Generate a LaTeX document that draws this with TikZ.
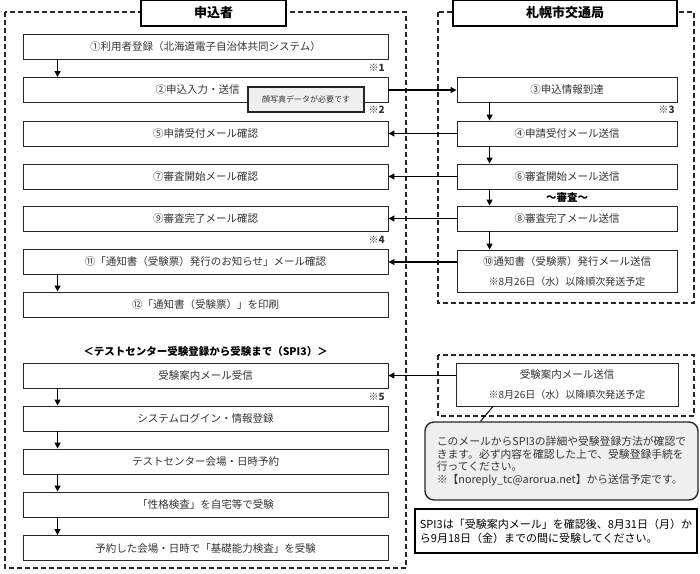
\documentclass[tikz,border=0pt]{standalone}
\usepackage{fontspec}
\setmainfont{Noto Sans CJK JP}
\usetikzlibrary{arrows.meta, positioning}
\definecolor{inkgray}{HTML}{333333}
\definecolor{notegray}{HTML}{EFEFEF}

\begin{document}
\begin{tikzpicture}[x=1pt, y=-1pt,
        box/.style={draw=black!85, line width=0.9pt, fill=white, inner sep=0pt,
                    minimum height=25pt, text=inkgray, align=center,
                    font=\fontsize{10.5}{20}\selectfont},
        lbox/.style={box, minimum width=365pt},
        rbox/.style={box, minimum width=220pt},
        head/.style={draw=black, line width=1.4pt, fill=white, inner sep=0pt,
                     minimum height=26pt, font=\fontsize{13}{15}\selectfont\bfseries},
        frame/.style={draw=black!85, line width=1.3pt, dash pattern=on 5pt off 3pt},
        refmark/.style={anchor=east, inner sep=0pt, text=inkgray,
                        font=\fontsize{10}{12}\selectfont\bfseries},
        arr/.style={-{Triangle[length=6pt, width=6pt]}, line width=1.2pt}
    ]
    \useasboundingbox (0,0) rectangle (700,573);

    % dashed frames
    \draw[frame] (5,12) rectangle (406,568);
    \draw[frame] (438,12) rectangle (694,303);
    \draw[frame] (438,355) rectangle (694,416);

    \node[head, minimum width=145pt] (applicant) at (213.5,13) {申込者};
    \node[head, minimum width=224pt] (bureau) at (565,13) {札幌市交通局};

    % applicant side
    \node[lbox] (u1) at (205.5,46.5) {①利用者登録（北海道電子自治体共同システム）};
    \node[lbox] (u2) at (205.5,90) {②申込入力・送信\hspace*{16pt}};
    \node[lbox] (u5) at (205.5,133.5) {⑤申請受付メール確認};
    \node[lbox] (u7) at (205.5,176.5) {⑦審査開始メール確認};
    \node[lbox] (u9) at (205.5,218.5) {⑨審査完了メール確認};
    \node[lbox] (u11) at (205.5,262) {⑪「通知書（受験票）発行のお知らせ」メール確認};
    \node[lbox] (u12) at (205.5,304.5) {⑫「通知書（受験票）」を印刷};

    \node[draw=black!85, line width=1.6pt, fill=notegray, inner sep=0pt,
          minimum width=116pt, minimum height=25pt, text=inkgray,
          font=\fontsize{8}{10}\selectfont] (photo) at (306,99.5) {顔写真データが必要です};

    \node[refmark] (m1) at (385,68) {※1};
    \node[refmark] (m2) at (385,110) {※2};
    \node[refmark] (m4) at (385,240) {※4};

    % bureau side
    \node[rbox] (r3) at (567,90) {③申込情報到達};
    \node[rbox] (r4) at (567,133.5) {④申請受付メール送信};
    \node[rbox] (r6) at (567,176.5) {⑥審査開始メール送信};
    \node[rbox] (r8) at (567,218.5) {⑧審査完了メール送信};
    \node[rbox, minimum height=42pt] (r10) at (567,271)
        {⑩通知書（受験票）発行メール送信\\{\fontsize{10}{12}\selectfont ※8月26日（水）以降順次発送予定}};
    \node[refmark] (m3) at (675,110) {※3};
    \node[inner sep=0pt, font=\fontsize{10.5}{12}\selectfont\bfseries] (exam) at (567,197) {～審査～};

    % SPI3
    \node[inner sep=0pt, font=\fontsize{10.5}{12}\selectfont\bfseries] (spihead) at (205.5,352)
        {＜テストセンター受験登録から受験まで（SPI3）＞};
    \node[lbox] (t1) at (205.5,375.5) {受験案内メール受信};
    \node[lbox] (t2) at (205.5,418.5) {システムログイン・情報登録};
    \node[lbox] (t3) at (205.5,461.5) {テストセンター会場・日時予約};
    \node[lbox] (t4) at (205.5,504.5) {「性格検査」を自宅等で受験};
    \node[lbox] (t5) at (205.5,548) {予約した会場・日時で「基礎能力検査」を受験};
    \node[refmark] (m5) at (385,397) {※5};

    \node[rbox, minimum width=222pt, minimum height=43pt] (s1) at (567,384.5)
        {受験案内メール送信\\{\fontsize{10}{12}\selectfont ※8月26日（水）以降順次発送予定}};

    \node[draw=black!85, line width=1.4pt, rounded corners=9pt, fill=notegray,
          minimum width=273pt, minimum height=78pt, inner sep=0pt, align=left,
          text=inkgray, font=\fontsize{10.8}{12.5}\selectfont] (callout) at (561.5,461)
        {このメールからSPI3の詳細や受験登録方法が確認で\\
         きます。必ず内容を確認した上で、受験登録手続を\\
         行ってください。\\
         ※【noreply\_tc@arorua.net】から送信予定です。};
    \draw[line width=1pt] ([xshift=-74pt]s1.south) -- ([xshift=-81pt]callout.north);

    \node[draw=black, line width=1.5pt, fill=white, minimum width=282pt,
          minimum height=44pt, inner sep=0pt, align=left,
          font=\fontsize{11}{14}\selectfont] (period) at (556,531)
        {SPI3は「受験案内メール」を確認後、8月31日（月）か\\
         ら9月18日（金）までの間に受験してください。};

    % connectors
    \draw[arr] ([xshift=35pt]u1.south west) -- ([xshift=35pt]u2.north west);
    \draw[arr] ([xshift=35pt]u11.south west) -- ([xshift=35pt]u12.north west);
    \draw[arr] ([xshift=33pt]r3.south west) -- ([xshift=33pt]r4.north west);
    \draw[arr] ([xshift=33pt]r4.south west) -- ([xshift=33pt]r6.north west);
    \draw[arr] ([xshift=33pt]r6.south west) -- ([xshift=33pt]r8.north west);
    \draw[arr] ([xshift=33pt]r8.south west) -- ([xshift=33pt]r10.north west);
    \draw[arr] (u2.east) -- (r3.west);
    \draw[arr] (r4.west) -- (u5.east);
    \draw[arr] (r6.west) -- (u7.east);
    \draw[arr] (r8.west) -- (u9.east);
    \draw[arr] ([yshift=9pt]r10.west) -- (u11.east);
    \draw[arr] (s1.west |- t1.east) -- (t1.east);
    \draw[arr] ([xshift=35pt]t1.south west) -- ([xshift=35pt]t2.north west);
    \draw[arr] ([xshift=35pt]t2.south west) -- ([xshift=35pt]t3.north west);
    \draw[arr] ([xshift=35pt]t3.south west) -- ([xshift=35pt]t4.north west);
    \draw[arr] ([xshift=35pt]t4.south west) -- ([xshift=35pt]t5.north west);
\end{tikzpicture}
\end{document}
